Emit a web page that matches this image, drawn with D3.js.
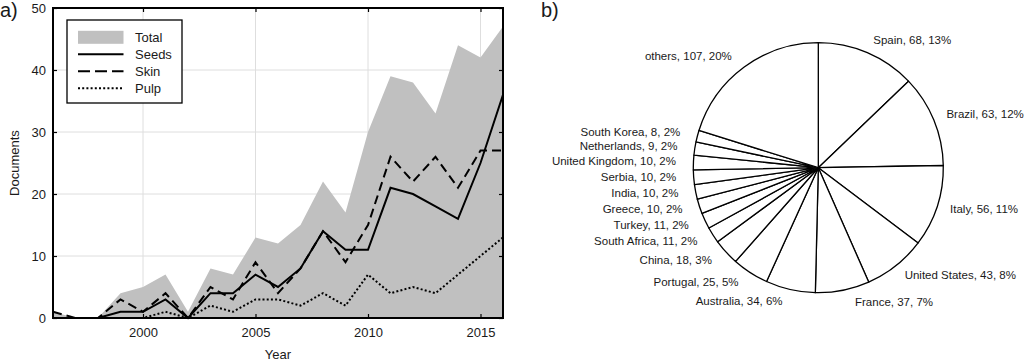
<!DOCTYPE html>
<html>
<head>
<meta charset="utf-8">
<title>Documents per year and per country</title>
<style>
body { margin: 0; background: #fff; }
svg { display: block; font-family: Arial, "Liberation Sans", sans-serif; }
.grid line { stroke: #dedede; stroke-width: 1; }
.axis path { display: none; }
.axis line { stroke: #000; stroke-width: 1.2; }
.axis text { font-size: 13px; fill: #1a1a1a; }
.label { font-size: 13px; fill: #1a1a1a; }
.panel { font-size: 20px; fill: #1a1a1a; }
.slice { fill: #fff; stroke: #000; stroke-width: 1.3; }
.pieLabel { font-size: 11.5px; fill: #1a1a1a; }
</style>
<script src="https://d3js.org/d3.v7.min.js"></script>
</head>
<body>
<svg id="chart" width="1024" height="362"></svg>
<script>

// ---- panel a) documents per year
var years  = [1996,1997,1998,1999,2000,2001,2002,2003,2004,2005,2006,2007,2008,2009,2010,2011,2012,2013,2014,2015,2016];
var total  = [1, 0, 0, 4, 5, 7, 1, 8, 7, 13, 12, 15, 22, 17, 30, 39, 38, 33, 44, 42, 47];
var seeds  = [0, 0, 0, 1, 1, 3, 0, 4, 4, 7, 5, 8, 14, 11, 11, 21, 20, 18, 16, 25, 36];
var skin   = [1, 0, 0, 3, 1, 4, 0, 5, 3, 9, 4, 8, 14, 9, 15, 26, 22, 26, 21, 27, 27];
var pulp   = [0, 0, 0, 0, 0, 1, 0, 2, 1, 3, 3, 2, 4, 2, 7, 4, 5, 4, 7, 10, 13];
var xTicks = [2000, 2005, 2010, 2015];
var yTicks = [0, 10, 20, 30, 40, 50];
var legendNames = ["Total", "Seeds", "Skin", "Pulp"];

// ---- panel b) documents per country
var countries = ["Spain", "Brazil", "Italy", "United States", "France", "Australia", "Portugal", "China",
                 "South Africa", "Turkey", "Greece", "India", "Serbia", "United Kingdom", "Netherlands",
                 "South Korea", "others"];
var docs = [68, 63, 56, 43, 37, 34, 25, 18, 11, 11, 10, 10, 10, 10, 9, 8, 107];

var svg = d3.select("#chart");

var margin = {top: 8, right: 521, bottom: 44, left: 53};
var width = 1024, height = 362;

var x = d3.scaleLinear()
  .domain([1996, 2016])
  .range([margin.left, width - margin.right]);

var y = d3.scaleLinear()
  .domain([0, 50])
  .range([height - margin.bottom, margin.top]);

// grid
var grid = svg.append("g").attr("class", "grid");
grid.selectAll(".gx")
  .data(xTicks)
  .join("line")
  .attr("x1", d => x(d)).attr("x2", d => x(d))
  .attr("y1", y(50)).attr("y2", y(0));
grid.selectAll(".gy")
  .data(yTicks.slice(1, -1))
  .join("line")
  .attr("x1", x(1996)).attr("x2", x(2016))
  .attr("y1", d => y(d)).attr("y2", d => y(d));

var rows = years.map((yr, i) => ({year: yr, total: total[i], seeds: seeds[i], skin: skin[i], pulp: pulp[i]}));

var area = d3.area()
  .x(d => x(d.year))
  .y0(y(0))
  .y1(d => y(d.total));

svg.append("path")
  .datum(rows)
  .attr("fill", "#c0c0c0")
  .attr("d", area);

var styles = {
  seeds: {dash: null, w: 2},
  skin: {dash: "9,5", w: 2},
  pulp: {dash: "2,2.2", w: 2}
};

["pulp", "skin", "seeds"].forEach(function(key) {
  var line = d3.line()
    .x(d => x(d.year))
    .y(d => y(d[key]));
  svg.append("path")
    .datum(rows)
    .attr("fill", "none")
    .attr("stroke", "#000")
    .attr("stroke-width", styles[key].w)
    .attr("stroke-dasharray", styles[key].dash)
    .attr("d", line);
});

// axes, ticks pointing inside
svg.append("g").attr("class", "axis")
  .attr("transform", `translate(0,${y(0)})`)
  .call(d3.axisBottom(x).tickValues(xTicks).tickFormat(d3.format("d")).tickSize(-4).tickPadding(10));
svg.append("g").attr("class", "axis")
  .attr("transform", `translate(${x(1996)},0)`)
  .call(d3.axisLeft(y).tickValues(yTicks).tickSize(-4).tickPadding(7));
svg.append("g").attr("class", "axis")
  .attr("transform", `translate(0,${y(50)})`)
  .call(d3.axisTop(x).tickValues(xTicks).tickSize(-4).tickFormat(""));
svg.append("g").attr("class", "axis")
  .attr("transform", `translate(${x(2016)},0)`)
  .call(d3.axisRight(y).tickValues(yTicks).tickSize(-4).tickFormat(""));

svg.append("rect")
  .attr("x", x(1996)).attr("y", y(50))
  .attr("width", x(2016) - x(1996))
  .attr("height", y(0) - y(50))
  .attr("fill", "none")
  .attr("stroke", "#000")
  .attr("stroke-width", 2);

svg.append("text")
  .attr("class", "label")
  .attr("text-anchor", "middle")
  .attr("x", (x(1996) + x(2016)) / 2)
  .attr("y", 359)
  .text("Year");

svg.append("text")
  .attr("class", "label")
  .attr("text-anchor", "middle")
  .attr("transform", "rotate(-90)")
  .attr("x", -(y(0) + y(50)) / 2)
  .attr("y", 19)
  .text("Documents");

// legend
var lg = svg.append("g").attr("transform", "translate(67,20)");
lg.append("rect")
  .attr("width", 115).attr("height", 83)
  .attr("fill", "#fff").attr("stroke", "#000").attr("stroke-width", 1.3);

var item = lg.selectAll(".item")
  .data(legendNames)
  .join("g")
  .attr("transform", (d, i) => `translate(0,${17.3 + i * 17})`);

item.filter(d => d == "Total").append("rect")
  .attr("x", 11).attr("y", -6.5).attr("width", 45.5).attr("height", 13)
  .attr("fill", "#c0c0c0");

item.filter(d => d != "Total").append("line")
  .attr("x1", 11).attr("x2", 56.5)
  .attr("stroke", "#000")
  .attr("stroke-width", d => styles[d.toLowerCase()].w)
  .attr("stroke-dasharray", d => d == "Skin" ? "12,5" : styles[d.toLowerCase()].dash);

item.append("text")
  .attr("class", "label")
  .attr("x", 68)
  .attr("dy", "0.36em")
  .text(d => d);

svg.append("text").attr("class", "panel").attr("x", 0).attr("y", 17).text("a)");
svg.append("text").attr("class", "panel").attr("x", 541).attr("y", 17).text("b)");

// ---- pie
var cx = 818.3, cy = 167.7, r = 125;
var sum = d3.sum(docs);
var slices = countries.map((c, i) => ({name: c, value: docs[i]}));

var pie = d3.pie().sort(null).value(d => d.value);
var arc = d3.arc().innerRadius(0).outerRadius(r);
var labelArc = d3.arc().innerRadius(r * 1.1).outerRadius(r * 1.1);

var pg = svg.append("g").attr("transform", `translate(${cx},${cy})`);
var arcs = pie(slices);

pg.selectAll("path")
  .data(arcs)
  .join("path")
  .attr("class", "slice")
  .attr("stroke-linejoin", "round")
  .attr("d", arc);

pg.selectAll("text")
  .data(arcs)
  .join("text")
  .attr("class", "pieLabel")
  .each(function(d) {
    var c = labelArc.centroid(d);
    var right = c[0] > 0;
    // labels close to the bottom sit a little further right in the reference
    var shift = right ? (c[0] < 40 ? 10 : 1) : -5;
    d3.select(this)
      .attr("x", c[0] + shift)
      .attr("y", c[1] - 1)
      .attr("dy", "0.35em")
      .attr("text-anchor", right ? "start" : "end");
  })
  .text(d => d.data.name + ", " + d.data.value + ", " + Math.round(d.data.value / sum * 100) + "%");

</script>
</body>
</html>
